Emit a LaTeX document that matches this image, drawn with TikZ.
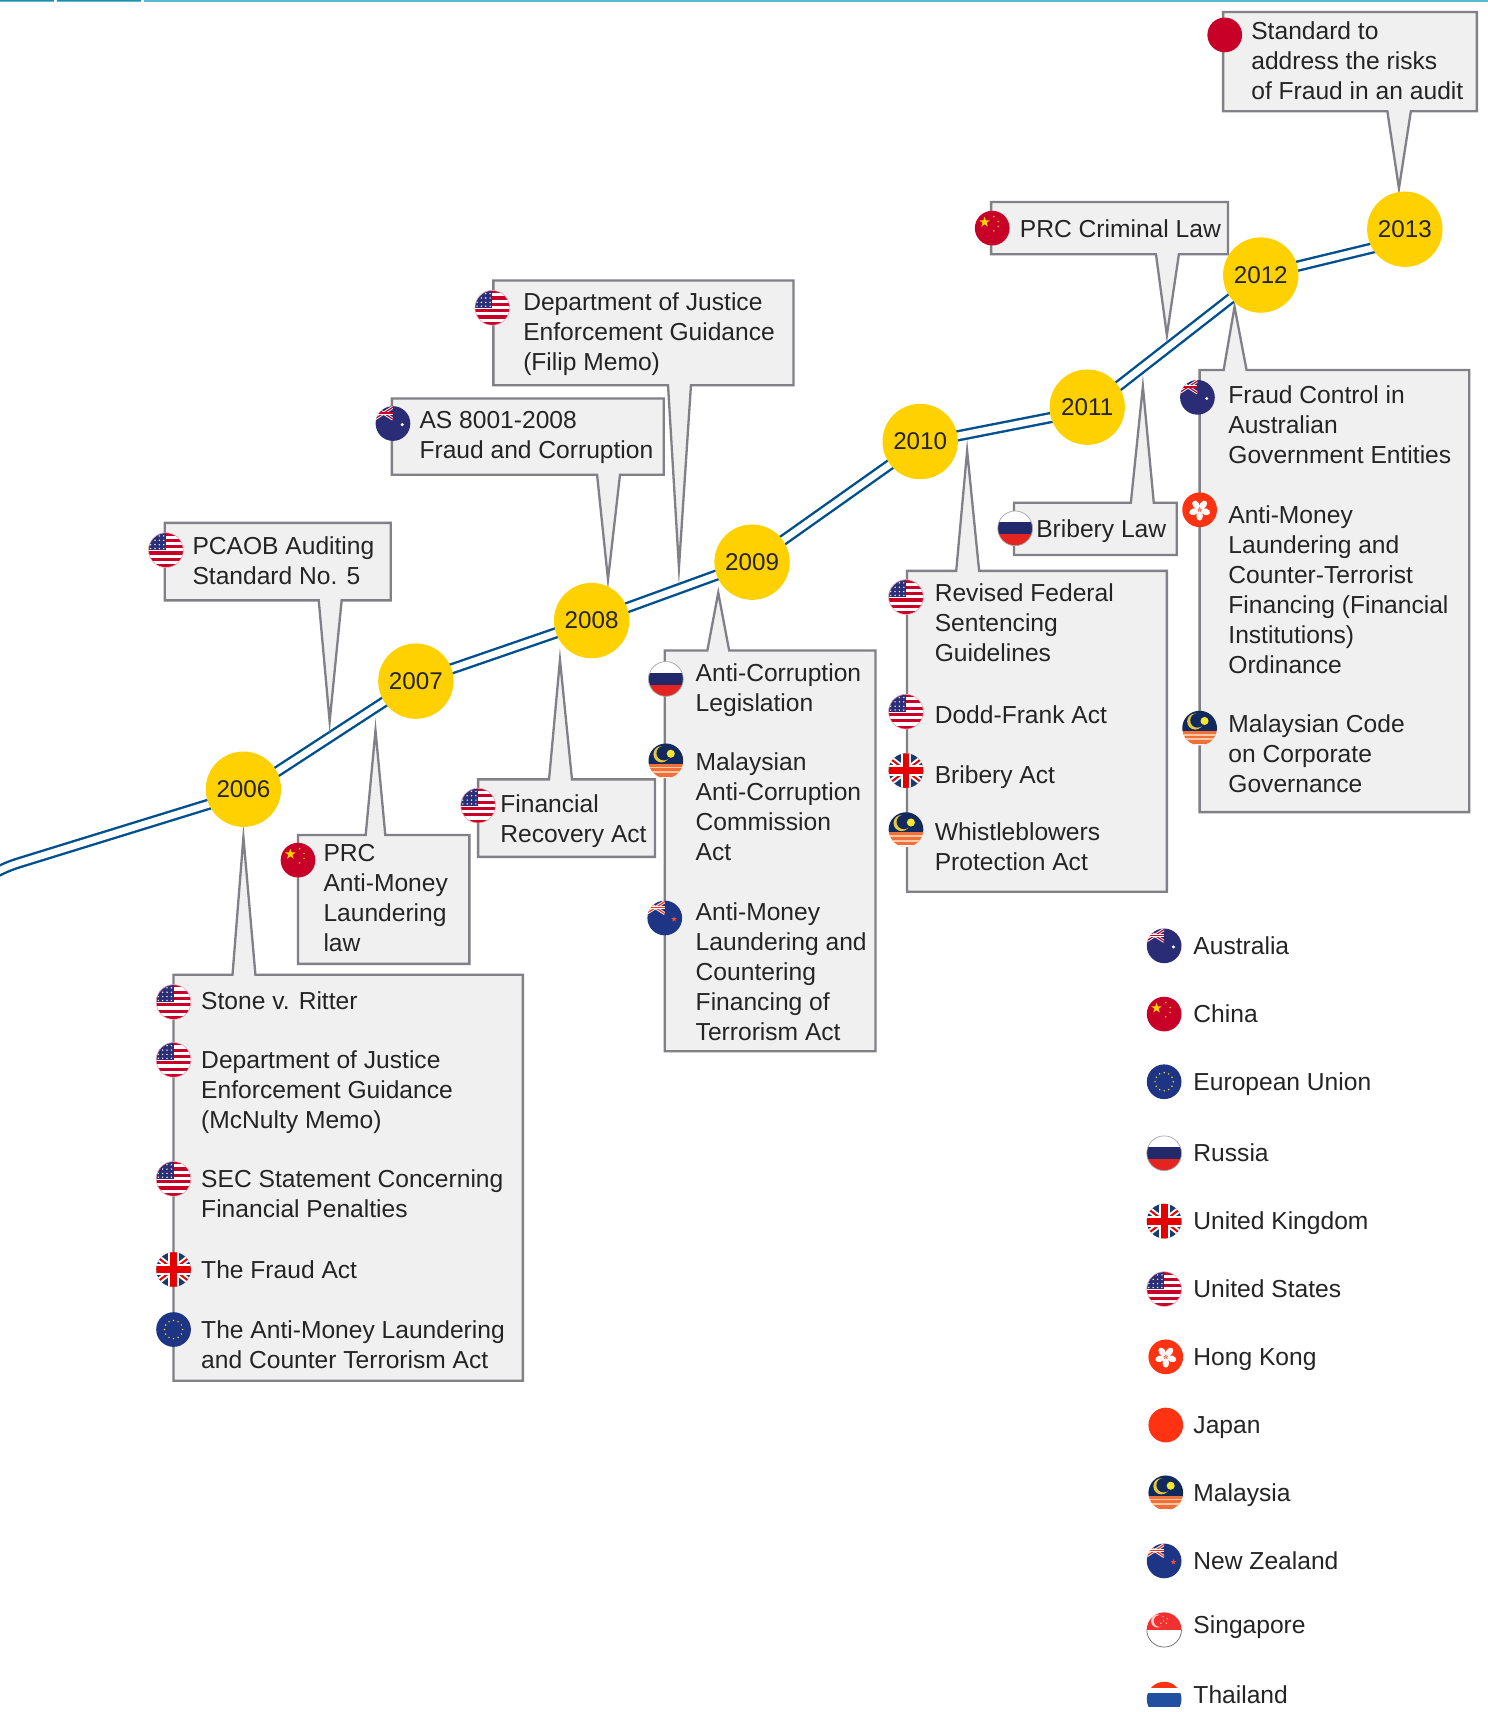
\documentclass[tikz,border=0pt]{standalone}
\usepackage{fontspec}
\setmainfont{Liberation Sans}
\usetikzlibrary{calc}
\definecolor{boxfill}{HTML}{F0F0F0}
\definecolor{boxline}{HTML}{808086}
\definecolor{yearfill}{HTML}{FFD100}
\definecolor{tline}{HTML}{00508F}
\definecolor{ink}{HTML}{242424}
\definecolor{fnavy}{HTML}{2A2C75}
\definecolor{fblue}{HTML}{1E3585}
\definecolor{fred}{HTML}{C80028}
\definecolor{fbright}{HTML}{FF3311}
\definecolor{fyellow}{HTML}{FFD400}
\definecolor{fus}{HTML}{2A2F78}
\definecolor{fuk}{HTML}{173A73}
\definecolor{fmy}{HTML}{12295E}
\definecolor{topa}{HTML}{1A90B0}
\definecolor{topb}{HTML}{5DB8D0}
\definecolor{rured}{HTML}{E32420}
\definecolor{runavy}{HTML}{22296B}
\definecolor{thblue}{HTML}{20509F}
\definecolor{sgred}{HTML}{F23030}
\definecolor{mygold}{HTML}{E6C83C}
\definecolor{mysun}{HTML}{F5E62E}
\definecolor{myorange}{HTML}{F0703A}
\definecolor{mylight}{HTML}{FFC9A6}
\newcommand\sstar[3]{\fill[shift={(#1,#2)}] (-90:#3) -- (-54:0.4*#3) -- (-18:#3) -- (18:0.4*#3) -- (54:#3) -- (90:0.4*#3) -- (126:#3) -- (162:0.4*#3) -- (198:#3) -- (234:0.4*#3) -- cycle;}
\newcommand\unionbit[1]{%
  \begin{scope}
    \clip (-17,-17) rectangle (0,-3);
    \draw[white,line width=1.5pt] (-17,-15) -- (0,-4) (-17,-4) -- (0,-15);
    \draw[#1,line width=0.6pt] (-17,-15) -- (0,-4) (-17,-4) -- (0,-15);
    \draw[white,line width=1.5pt] (-17,-9.5) -- (0,-9.5);
    \draw[#1,line width=0.8pt] (-17,-9.5) -- (0,-9.5);
  \end{scope}}
\tikzset{
  pics/usflag/.style={code={
    \begin{scope}
      \clip (0,0) circle[radius=15.9];
      \fill[white] (-17,-17) rectangle (17,17);
      \foreach \s in {-14.8,-9,-3.2,2.6,8.4,14.2} \fill[fred] (-17,\s-1.45) rectangle (17,\s+1.45);
      \fill[fus] (-17,-17) rectangle (0,0.2);
      \foreach \a in {-14,-10,-6,-2} \foreach \b in {-13,-9,-5,-1.5} \fill[white] (\a,\b) circle[radius=0.7];
    \end{scope}
    \draw[fred!35,line width=0.3pt] (0,0) circle[radius=15.9];
  }},
  pics/auflag/.style={code={
    \fill[fnavy] (0,0) circle[radius=15.9];
    \begin{scope}
      \clip (0,0) circle[radius=15.9];
      \unionbit{fred}
    \end{scope}
    \fill[white] (8.5,1) circle[radius=1.5];
  }},
  pics/nzflag/.style={code={
    \fill[fblue] (0,0) circle[radius=15.9];
    \begin{scope}
      \clip (0,0) circle[radius=15.9];
      \unionbit{fbright}
    \end{scope}
    \begin{scope}[fbright!85!white]
      \sstar{8.5}{1}{2.6}
    \end{scope}
  }},
  pics/cnflag/.style={code={
    \fill[fred] (0,0) circle[radius=15.9];
    \begin{scope}[fyellow]
      \sstar{-7}{-5.5}{5}
      \fill (1.5,-10.5) circle[radius=0.8] (5.5,-6) circle[radius=0.8] (5.5,-1.5) circle[radius=0.8] (1.5,2.5) circle[radius=0.8];
    \end{scope}
  }},
  pics/euflag/.style={code={
    \fill[fblue] (0,0) circle[radius=15.9];
    \foreach \a in {0,30,...,330} \fill[fyellow] (\a:8.3) circle[radius=0.75];
  }},
  pics/ruflag/.style={code={
    \begin{scope}
      \clip (0,0) circle[radius=15.9];
      \fill[white] (-17,-17) rectangle (17,-5.6);
      \fill[runavy] (-17,-5.6) rectangle (17,5.4);
      \fill[rured] (-17,5.4) rectangle (17,17);
    \end{scope}
    \draw[black!35,line width=0.35pt] (0,0) circle[radius=15.9];
  }},
  pics/ukflag/.style={code={
    \begin{scope}
      \clip (0,0) circle[radius=15.9];
      \fill[fuk] (-17,-17) rectangle (17,17);
      \draw[white,line width=3pt] (-17,-13) -- (17,13) (-17,13) -- (17,-13);
      \draw[red!90!black,line width=1pt] (-17,-13) -- (17,13) (-17,13) -- (17,-13);
      \draw[white,line width=5.4pt] (-17,0) -- (17,0) (0,-17) -- (0,17);
      \draw[red!90!black,line width=3.4pt] (-17,0) -- (17,0) (0,-17) -- (0,17);
    \end{scope}
  }},
  pics/hkflag/.style={code={
    \fill[fbright] (0,0) circle[radius=15.9];
    \foreach \a in {-90,-18,54,126,198} \fill[white!92!pink,rotate=\a] (5.6,0) ellipse[x radius=4.4,y radius=3];
    \fill[fbright!40!white] (0,0) circle[radius=1.2];
  }},
  pics/jpflag/.style={code={\fill[fbright] (0,0) circle[radius=15.9];}},
  pics/plainred/.style={code={\fill[fred] (0,0) circle[radius=15.9];}},
  pics/myflag/.style={code={
    \begin{scope}
      \clip (0,0) circle[radius=15.9];
      \fill[fmy] (-17,-17) rectangle (17,2.5);
      \fill[myorange] (-17,2.5) rectangle (17,17);
      \fill[mylight] (-17,5.4) rectangle (17,7);
      \fill[mylight] (-17,9.4) rectangle (17,11);
      \fill[white] (-17,14.5) rectangle (17,17);
      \fill[mygold] (-4,-6) circle[radius=7.4];
      \fill[fmy] (-2,-7) circle[radius=6.6];
      \fill[mysun] (4.5,-6.5) circle[radius=3.7];
    \end{scope}
  }},
  pics/sgflag/.style={code={
    \begin{scope}
      \clip (0,0) circle[radius=15.9];
      \fill[white] (-17,-17) rectangle (17,17);
      \fill[sgred] (-17,-17) rectangle (17,0);
      \fill[white!80!red] (-6,-8) circle[radius=6];
      \fill[sgred] (-4,-8) circle[radius=5.4];
      \foreach \a/\b in {-1/-12,3/-10,-3/-6,2/-6,-0.5/-8} \fill[white!80!red] (\a,\b) circle[radius=0.7];
    \end{scope}
    \draw[black!60,line width=0.35pt] (-15.9,0) arc[start angle=180,end angle=0,radius=15.9];
  }},
  pics/thflag/.style={code={
    \begin{scope}
      \clip (0,0) circle[radius=15.9];
      \fill[white] (-17,-17) rectangle (17,17);
      \fill[fbright] (-17,-17) rectangle (17,-10);
      \fill[thblue] (-17,-5.5) rectangle (17,7);
    \end{scope}
  }},
  boxstyle/.style={fill=boxfill,draw=boxline,line width=1.15pt,line join=miter,miter limit=40},
  lbl/.style={anchor=north west,inner sep=0pt,align=left,text=ink,yshift=10pt,
    font=\fontsize{12.3}{14.95}\selectfont,
    execute at begin node=\rule{0pt}{10pt}},
  yearnode/.style={circle,fill=yearfill,draw=none,minimum size=37.7pt,inner sep=0pt,text=ink,
    font=\fontsize{12.1}{14}\selectfont},
  timeline/.style={draw=tline,line width=1.2pt,double=white,double distance=3.3pt,line join=round},
}
% L T R B base1 base2 tipx tipy
\newcommand\calloutup[8]{\draw[boxstyle] (#1,#2) -- (#5,#2) -- (#7,#8) -- (#6,#2) -- (#3,#2) -- (#3,#4) -- (#1,#4) -- cycle;}
\newcommand\calloutdown[8]{\draw[boxstyle] (#1,#2) -- (#3,#2) -- (#3,#4) -- (#6,#4) -- (#7,#8) -- (#5,#4) -- (#1,#4) -- cycle;}
\begin{document}
\begin{tikzpicture}[x=0.54585pt,y=-0.54585pt]
\useasboundingbox (0,0) rectangle (1363,1568.4);
\fill[white] (0,0) rectangle (1363,1568.4);
% top rule
\fill[topa] (0,0) rectangle (49.5,1.5) (52,0) rectangle (129,1.5);
\fill[topb] (132,0) rectangle (1363,1.5);
% year anchors
\coordinate (c0) at (-12,803);
\coordinate (c1) at (9,793);
\coordinate (j2006) at (223,727);
\coordinate (j2010) at (843,406);
\coordinate (j2011) at (996,376);
\coordinate (j2013) at (1287,220);
\coordinate (c2006) at (223,723);
\coordinate (c2007) at (381,624);
\coordinate (c2008) at (542,568.5);
\coordinate (c2009) at (689,515);
\coordinate (c2010) at (843,404.5);
\coordinate (c2011) at (996,373);
\coordinate (c2012) at (1155,252);
\coordinate (c2013) at (1287,210);
\draw[timeline,rounded corners=4pt] (c0) -- (c1) -- (j2006);
\draw[timeline] (j2006) -- (c2007) -- (c2008) -- (c2009) -- (j2010) -- (j2011) -- (c2012) -- (j2013);
% callouts
\calloutup{159}{893}{479}{1265}{213}{234}{223}{767}
\calloutup{273}{765}{430}{883}{335}{353}{344}{669}
\calloutdown{151}{479}{358}{550}{292}{313}{302}{661}
\calloutup{438}{714}{600}{785}{503}{524}{513}{604.5}
\calloutdown{359}{365}{608}{435}{547}{568}{557}{531}
\calloutdown{452}{257}{727}{353}{612}{633}{622}{520}
\calloutup{609}{596}{802}{963}{648}{668}{658}{543}
\calloutup{831}{523}{1069}{817}{876}{897}{886}{413}
\calloutup{929}{460.5}{1078}{508.5}{1036}{1057}{1047}{354}
\calloutdown{908}{185}{1125}{233}{1059}{1080}{1069}{307}
\calloutup{1099}{339}{1346}{744}{1121}{1142}{1131}{281}
\calloutdown{1120.5}{11}{1353}{102}{1271}{1292.5}{1281.6}{172.6}
% year nodes
\foreach \yr in {2006,2007,2008,2009,2010,2011,2012,2013}
  \node[yearnode] (y\yr) at (c\yr) {\yr};
% callout flags
\pic at (159,918) {usflag};
\pic at (159,971) {usflag};
\pic at (159,1080) {usflag};
\pic at (159,1163) {ukflag};
\pic at (159,1218) {euflag};
\pic at (273,788) {cnflag};
\pic at (152,504) {usflag};
\pic at (438,738) {usflag};
\pic at (360,388) {auflag};
\pic at (451,282) {usflag};
\pic at (610,622) {ruflag};
\pic at (610,697) {myflag};
\pic at (609,841) {nzflag};
\pic at (830,547) {usflag};
\pic at (830,652) {usflag};
\pic at (830,706) {ukflag};
\pic at (830,760) {myflag};
\pic at (930,484) {ruflag};
\pic at (909,209) {cnflag};
\pic at (1097,364) {auflag};
\pic at (1099,467) {hkflag};
\pic at (1099,667) {myflag};
\pic at (1122,32) {plainred};
% callout text
\node[lbl] (t1) at (184,924) {Stone v. Ritter};
\node[lbl] (t2) at (184,980.5) {Department of Justice\\Enforcement Guidance\\(McNulty Memo)};
\node[lbl] (t3) at (184,1089.5) {SEC Statement Concerning\\Financial Penalties};
\node[lbl] (t4) at (184,1171) {The Fraud Act};
\node[lbl] (t5) at (184,1227.5) {The Anti-Money Laundering\\and Counter Terrorism Act};
\node[lbl] (t6) at (296,791.5) {PRC\\Anti-Money\\Laundering\\law};
\node[lbl] (t7) at (176,510) {PCAOB Auditing\\Standard No. 5};
\node[lbl] (t8) at (458,746) {Financial\\Recovery Act};
\node[lbl] (t9) at (384,395) {AS 8001-2008\\Fraud and Corruption};
\node[lbl] (t10) at (479,286) {Department of Justice\\Enforcement Guidance\\(Filip Memo)};
\node[lbl] (t11) at (637,626) {Anti-Corruption\\Legislation};
\node[lbl] (t12) at (637,707.5) {Malaysian\\Anti-Corruption\\Commission\\Act};
\node[lbl] (t13) at (637,845) {Anti-Money\\Laundering and\\Countering\\Financing of\\Terrorism Act};
\node[lbl] (t14) at (856,553) {Revised Federal\\Sentencing\\Guidelines};
\node[lbl] (t15) at (856,662) {Dodd-Frank Act};
\node[lbl] (t16) at (856,717) {Bribery Act};
\node[lbl] (t17) at (856,772) {Whistleblowers\\Protection Act};
\node[lbl] (t18) at (949,492) {Bribery Law};
\node[lbl] (t19) at (934,217) {PRC Criminal Law};
\node[lbl] (t20) at (1125,371.5) {Fraud Control in\\Australian\\Government Entities};
\node[lbl] (t21) at (1125,481.5) {Anti-Money\\Laundering and\\Counter-Terrorist\\Financing (Financial\\Institutions)\\Ordinance};
\node[lbl] (t22) at (1125,673) {Malaysian Code\\on Corporate\\Governance};
\node[lbl] (t23) at (1146,38) {Standard to\\address the risks\\of Fraud in an audit};
% legend
\pic at (1066.5,866.5) {auflag};
\pic at (1066.5,929) {cnflag};
\pic at (1066.5,991) {euflag};
\pic at (1066.5,1056.5) {ruflag};
\pic at (1066.5,1118.7) {ukflag};
\pic at (1066.5,1181) {usflag};
\pic at (1068,1243) {hkflag};
\pic at (1068,1305.5) {jpflag};
\pic at (1068,1367.6) {myflag};
\pic at (1066.5,1430) {nzflag};
\pic at (1066.5,1493) {sgflag};
\pic at (1066.5,1556.6) {thflag};
\node[lbl] (l1) at (1093,874) {Australia};
\node[lbl] (l2) at (1093,936) {China};
\node[lbl] (l3) at (1093,998.5) {European Union};
\node[lbl] (l4) at (1093,1063.5) {Russia};
\node[lbl] (l5) at (1093,1126) {United Kingdom};
\node[lbl] (l6) at (1093,1188) {United States};
\node[lbl] (l7) at (1093,1250.5) {Hong Kong};
\node[lbl] (l8) at (1093,1313) {Japan};
\node[lbl] (l9) at (1093,1375) {Malaysia};
\node[lbl] (l10) at (1093,1437.5) {New Zealand};
\node[lbl] (l11) at (1093,1496) {Singapore};
\node[lbl] (l12) at (1093,1560) {Thailand};
\end{tikzpicture}
\end{document}
